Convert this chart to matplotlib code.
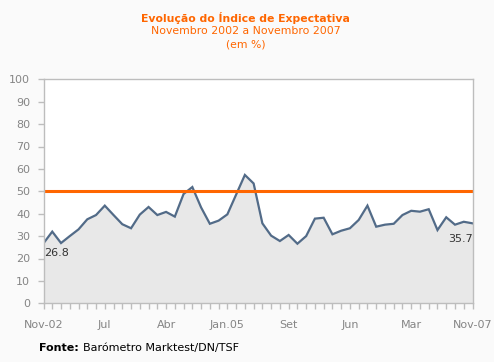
import matplotlib
matplotlib.use("Agg")
import matplotlib.pyplot as plt
import numpy as np

# ------------------------------
# Data
# ------------------------------
values = [26.8, 32.0, 26.9, 30.0, 33.0, 37.5, 39.4, 43.6, 39.4, 35.3,
          33.5, 39.6, 43.0, 39.4, 40.8, 38.7, 48.8, 51.9, 42.8, 35.5,
          36.9, 39.7, 48.5, 57.3, 53.5, 35.7, 30.2, 27.8, 30.5, 26.6,
          30.0, 37.8, 38.2, 30.8, 32.4, 33.5, 37.2, 43.6, 34.2, 35.1,
          35.5, 39.4, 41.3, 40.9, 42.0, 32.7, 38.4, 35.1, 36.4, 35.7]
tick_labels = ["Nov-02", "Jul", "Abr", "Jan.05", "Set", "Jun", "Mar", "Nov-07"]
tick_pos = [0, 7, 14, 21, 28, 35, 42, 49]
threshold = 50
y_ticks = list(range(0, 101, 10))

# ------------------------------
# Figure & Axes
# ------------------------------
W, H = 494, 362
fig = plt.figure(figsize=(W / 100, H / 100), dpi=100)
fig.patch.set_facecolor("#fafafa")
ax = fig.add_axes([43.5 / W, 1 - 303.3 / H, (472.5 - 43.5) / W, (303.3 - 79.3) / H])
ax.set_facecolor("white")

x = np.arange(len(values))
ax.fill_between(x, 0, values, color="#e8e8e8", linewidth=0)
ax.plot(x, values, color="#526b88", linewidth=1.6, solid_joinstyle="miter")
ax.axhline(threshold, color="#ff6600", linewidth=2.2)

ax.set_xlim(0, len(values) - 1)
ax.set_ylim(0, 100)
for s in ax.spines.values():
    s.set_color("#bdbdbd")
    s.set_linewidth(1)

ax.set_yticks(y_ticks)
ax.set_xticks(x, minor=True)
ax.set_xticks(tick_pos)
ax.set_xticklabels(tick_labels)
ax.tick_params(axis="both", which="both", color="#bdbdbd", length=4, width=1,
               labelcolor="#858585", labelsize=8)
ax.tick_params(axis="y", pad=5.5)
ax.tick_params(axis="x", pad=8)

# data labels
ax.annotate(f"{values[0]:.1f}", (x[0], values[0]), xytext=(1, -10),
            textcoords="offset pixels", ha="left", va="center",
            fontsize=8, color="#333333")
ax.annotate(f"{values[-1]:.1f}", (x[-1], values[-1]), xytext=(0, -16),
            textcoords="offset pixels", ha="right", va="center",
            fontsize=8, color="#333333")

# ------------------------------
# Titles & source
# ------------------------------
fig.text(245.5 / W, 1 - 18 / H, "Evolução do Índice de Expectativa", ha="center",
         va="center", color="#ff6600", fontsize=7.8, fontweight="bold")
fig.text(245.5 / W, 1 - 31.5 / H, "Novembro 2002 a Novembro 2007", ha="center",
         va="center", color="#ff6600", fontsize=7.8)
fig.text(245.5 / W, 1 - 44.5 / H, "(em %)", ha="center",
         va="center", color="#ff6600", fontsize=7.8)
fig.text(39 / W, 1 - 348 / H, "Fonte:", ha="left", va="center",
         color="black", fontsize=8, fontweight="bold")
fig.text(83 / W, 1 - 348 / H, "Barómetro Marktest/DN/TSF", ha="left", va="center",
         color="black", fontsize=8)

fig.savefig("out.png", dpi=100, facecolor=fig.get_facecolor())
